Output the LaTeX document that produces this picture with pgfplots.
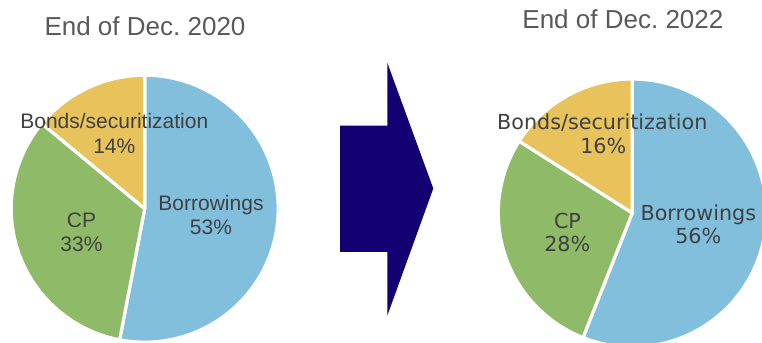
\documentclass[border=0pt]{standalone}
\usepackage{pgfplots}
\pgfplotsset{compat=1.18}
\usepackage{fontspec}
\setmainfont{Liberation Sans}
\newfontfamily\verd{DejaVu Sans}
\frenchspacing
\definecolor{cBorrow}{RGB}{130,191,220}
\definecolor{cCP}{RGB}{143,187,104}
\definecolor{cBond}{RGB}{232,195,92}
\definecolor{cArrow}{RGB}{19,0,114}
\definecolor{cTitle}{RGB}{89,89,89}
\definecolor{cLab}{RGB}{64,64,64}
% shares (percent), clockwise from 12 o'clock
\def\LBorrow{53}\def\LCP{33}\def\LBond{14}
\def\RBorrow{56}\def\RCP{28}\def\RBond{16}
\newcommand\slice[6]{% cx, cy, r, start angle, end angle, colour
  \addplot[fill=#6, draw=white, line width=3.2bp, line join=round,
    domain=#5:#4, samples=120, variable=\t]
    ({#1+#3*cos(\t)},{#2+#3*sin(\t)}) -- (axis cs:#1,#2) -- cycle;}
\begin{document}
\begin{tikzpicture}
\useasboundingbox (0,0) rectangle (762bp,343bp);
\pgfmathsetmacro\La{90-3.6*\LBorrow}
\pgfmathsetmacro\Lb{\La-3.6*\LCP}
\pgfmathsetmacro\Lc{\Lb-3.6*\LBond}
\pgfmathsetmacro\Ra{90-3.6*\RBorrow}
\pgfmathsetmacro\Rb{\Ra-3.6*\RCP}
\pgfmathsetmacro\Rc{\Rb-3.6*\RBond}
\begin{axis}[at={(0,0)}, anchor=south west, scale only axis,
  width=762bp, height=343bp, xmin=0, xmax=762, ymin=0, ymax=343,
  hide axis, clip=true]
% left pie
\slice{144.7}{134.3}{133.5}{90}{\La}{cBorrow}
\slice{144.7}{134.3}{133.5}{\La}{\Lb}{cCP}
\slice{144.7}{134.3}{133.5}{\Lb}{\Lc}{cBond}
% right pie
\slice{632.3}{130}{134}{90}{\Ra}{cBorrow}
\slice{632.3}{130}{134}{\Ra}{\Rb}{cCP}
\slice{632.3}{130}{134}{\Rb}{\Rc}{cBond}
% arrow
\addplot[fill=cArrow, draw=none] coordinates {(340,217.3) (387.3,217.3) (387.3,280.3) (433.3,154.5) (387.3,27.3) (387.3,91) (340,91)} -- cycle;
% titles
\node[anchor=base, text=cTitle, inner sep=0pt, font=\fontsize{26bp}{30bp}\selectfont] at (axis cs:145,307) {End of Dec. 2020};
\node[anchor=base, text=cTitle, inner sep=0pt, font=\fontsize{26bp}{30bp}\selectfont] at (axis cs:622.9,314.7) {End of Dec. 2022};
% left labels
\begin{scope}[every node/.style={anchor=base, text=cLab, inner sep=0pt, font=\fontsize{21bp}{24bp}\selectfont}]
\node at (axis cs:114.3,214.7) {Bonds/securitization};
\node at (axis cs:114.3,189.7) {\LBond\%};
\node at (axis cs:211,132) {Borrowings};
\node at (axis cs:211,108.7) {\LBorrow\%};
\node at (axis cs:81.5,115.3) {CP};
\node at (axis cs:81.5,91.3) {\LCP\%};
\end{scope}
% right labels
\begin{scope}[every node/.style={anchor=base, text=cLab, inner sep=0pt, font=\verd\fontsize{20.7bp}{24bp}\selectfont}]
\node at (axis cs:602.3,213) {Bonds/securitization};
\node at (axis cs:603.3,189) {\RBond\%};
\node at (axis cs:698.3,122.3) {Borrowings};
\node at (axis cs:698.3,99.7) {\RBorrow\%};
\node at (axis cs:567.5,114.7) {CP};
\node at (axis cs:567.3,91.3) {\RCP\%};
\end{scope}
\end{axis}
\end{tikzpicture}
\end{document}
